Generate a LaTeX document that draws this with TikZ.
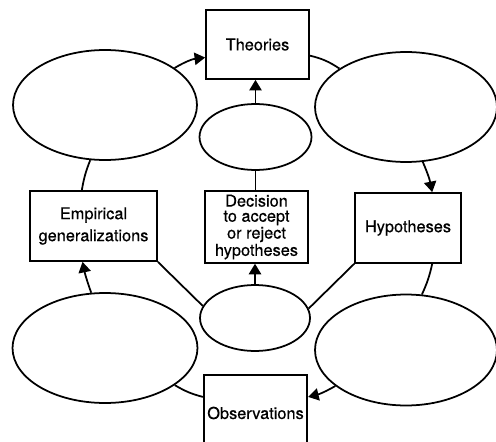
\documentclass[tikz,border=0pt]{standalone}
\usepackage{fontspec}
\setmainfont{TeX Gyre Heros}[FakeBold=0.5]
\newfontfamily\heavyish{TeX Gyre Heros}[FakeBold=0.5]
\usepackage{tikz}
\usetikzlibrary{positioning, arrows.meta, shapes.geometric}

\begin{document}
\begin{tikzpicture}[x=0.02cm, y=-0.02cm, line width=1pt,
    font=\heavyish\fontsize{9.3}{12.5}\selectfont,
    box/.style={rectangle, draw, minimum height=1.4cm, inner sep=2pt, align=center},
    oval/.style={ellipse, draw, inner sep=0pt},
    arr/.style={-{Triangle[length=6pt, width=7pt]}}]
    \useasboundingbox (0,0) rectangle (496,442);
    % boxes
    \node (theories) [box, minimum width=2.06cm, minimum height=1.38cm] at (257.5,44.5) {Theories};
    \node (decision) [box, minimum width=2.06cm, font=\heavyish\fontsize{9.3}{8.6}\selectfont] at (256.5,227) {Decision\\to accept\\or reject\\hypotheses};
    \node (empirical) [box, minimum width=2.54cm] at (93.5,226) {Empirical\\generalizations};
    \node (hypotheses) [box, minimum width=2.12cm] at (408,228) {Hypotheses};
    \node (observations) [box, minimum width=2.06cm, minimum height=1.52cm] at (255.5,413) {Observations};
    % empty ovals
    \node (lefttop) [oval, minimum width=3.68cm, minimum height=2.2cm] at (105,105) {};
    \node (righttop) [oval, minimum width=3.64cm, minimum height=2.2cm] at (406,107) {};
    \node (midtop) [oval, minimum width=2.24cm, minimum height=1.32cm] at (255.5,137) {};
    \node (midbottom) [oval, minimum width=2.2cm, minimum height=1.32cm] at (255,318) {};
    \node (leftbottom) [oval, minimum width=3.7cm, minimum height=2.2cm] at (105,348) {};
    \node (rightbottom) [oval, minimum width=3.64cm, minimum height=2.22cm] at (406,350) {};
    % outer ring
    \draw[arr] (lefttop.28) to[bend left=12] (theories.194);
    \draw (theories.348) to[bend left=10] (righttop.150);
    \draw[arr] (righttop.287) to[bend left=6] (hypotheses.56);
    \draw (hypotheses.304) to[bend left=6] (rightbottom.74);
    \draw[arr] (rightbottom.207) to[bend left=8] (observations.17);
    \draw (leftbottom.332) to[bend right=8] (observations.163);
    \draw[arr] (leftbottom.104) to[bend left=4] (empirical.253);
    \draw (empirical.108) to[bend left=6] (lefttop.255);
    % inner spokes
    \draw[arr] (midtop.north) -- (theories.south -| midtop.north);
    \draw (decision.north -| midtop.south) -- (midtop.south);
    \draw[arr] (midbottom.north) -- (decision.south -| midbottom.north);
    \draw (empirical.south east) -- (midbottom.167);
    \draw (hypotheses.south west) -- (midbottom.10);
\end{tikzpicture}
\end{document}
